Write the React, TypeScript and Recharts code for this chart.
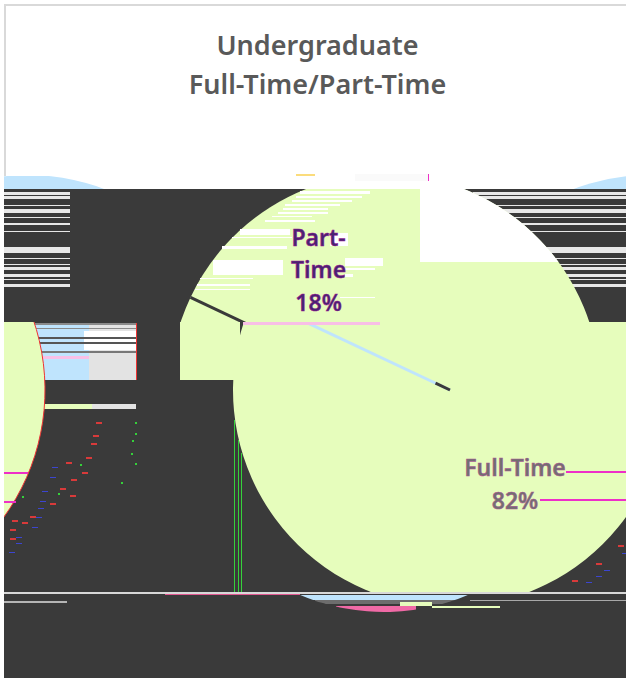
import { PieChart, Pie, Cell } from "recharts";

const categories = ["Full-Time", "Part-Time"];
const shares = [82, 18];
const titleLines = ["Undergraduate", "Full-Time/Part-Time"];

const pieData = categories.map((name, i) => ({ name, value: shares[i] }));

const DARK = "#3a3a3a";
const PALE = "#e6fdbc";
const BLUE = "#bfe4fd";
const PINK = "#f8bfe6";
const MAGENTA = "#ee2fc8";
const FONT = "'Noto Sans', sans-serif";

const W = 626;
const H = 678;
const WRAP = 622;

// row offsets of the torn scanlines in the reference
const stripeRows = [
  [192, 3], [196, 3], [205, 1], [209, 4], [217, 1], [223, 2], [231, 1],
  [247, 6], [258, 1], [264, 1], [267, 3], [274, 3], [279, 1], [284, 3],
];
const whitePatches = [
  [300, 191, 70, 3], [296, 196, 66, 2], [292, 200, 60, 2], [285, 204, 55, 2],
  [283, 208, 45, 2], [278, 212, 50, 2], [272, 216, 40, 1], [265, 220, 50, 2],
  [240, 229, 50, 6], [232, 237, 60, 1], [222, 246, 65, 3], [213, 260, 70, 15],
  [200, 278, 53, 1], [197, 284, 53, 2], [195, 289, 55, 1],
  [330, 233, 18, 13], [345, 258, 38, 8], [345, 268, 30, 2], [345, 274, 8, 3], [340, 297, 35, 1],
];
const redSpecks = [
  [96, 422], [93, 435], [91, 443], [86, 457], [66, 462], [82, 472], [71, 479], [60, 488], [70, 495],
  [50, 503], [30, 516], [22, 522], [12, 520], [10, 529], [10, 538], [572, 580], [596, 563], [618, 545],
];
const blueSpecks = [
  [52, 467], [50, 477], [42, 491], [40, 501], [38, 508], [36, 517], [32, 527], [16, 537], [16, 543],
  [9, 552], [604, 570], [596, 576], [586, 582], [622, 553],
];
const greenSpecks = [
  [135, 422], [135, 433], [132, 440], [131, 453], [135, 463], [121, 482], [80, 464], [58, 493], [22, 496],
];

const Box = ({ x, y, w, h, color }: any) => (
  <div style={{ position: "absolute", left: x, top: y, width: w, height: h, background: color }} />
);

const renderLabel = (labelFor: string | undefined, radius: number, shift: number, color: string, fringe: string, seam?: string) => (p: any) => {
  const rad = Math.PI / 180;
  const isPart = p.name === "Part-Time";
  const edge = -p.startAngle * rad;
  const mid = -p.midAngle * rad;
  const tx = p.cx + radius * Math.cos(mid) + shift;
  const ty = p.cy + radius * Math.sin(mid);
  const lines = isPart
    ? ["Part-", "Time", `${Math.round(p.percent * 100)}%`]
    : [p.name, `${Math.round(p.percent * 100)}%`];
  const top = ty - ((lines.length - 1) * 32.5) / 2;
  return (
    <g>
      {isPart && seam && (
        <line
          x1={p.cx}
          y1={p.cy}
          x2={p.cx + p.outerRadius * Math.cos(edge)}
          y2={p.cy + p.outerRadius * Math.sin(edge)}
          stroke={seam}
          strokeWidth={3}
        />
      )}
      {isPart && seam === BLUE && (
        <line
          x1={p.cx}
          y1={p.cy}
          x2={p.cx + 16 * Math.cos(edge)}
          y2={p.cy + 16 * Math.sin(edge)}
          stroke={DARK}
          strokeWidth={3}
        />
      )}
      {p.name === labelFor &&
        lines.map((t, i) => (
          <text
            key={t}
            x={tx}
            y={top + i * 32.5 + 8}
            textAnchor="middle"
            fill={color}
            stroke={fringe}
            strokeWidth={0.5}
            style={{ fontFamily: FONT, fontSize: 23, fontWeight: 600 }}
          >
            {t}
          </text>
        ))}
    </g>
  );
};

// one horizontal slice of the pie, clipped to its own box
const PieBand = ({ x, y, w, h, cx, cy, r, fill = PALE, edge = "none", shiftX = 0, labelFor, labelRadius = 0, labelShift = 0, labelColor = DARK, fringe = "none", seam }: any) => (
  <div style={{ position: "absolute", left: x, top: y, width: w, height: h, overflow: "hidden" }}>
    <div style={{ position: "absolute", left: -x + shiftX, top: -y }}>
      <PieChart width={W + 100} height={H} margin={{ top: 0, right: 0, bottom: 0, left: 0 }}>
        <Pie
          data={pieData}
          dataKey="value"
          nameKey="name"
          cx={cx}
          cy={cy}
          outerRadius={r}
          startAngle={90}
          endAngle={-270}
          stroke={edge}
          isAnimationActive={false}
          label={renderLabel(labelFor, labelRadius, labelShift, labelColor, fringe, seam)}
          labelLine={false}
        >
          {pieData.map((d) => (
            <Cell key={d.name} fill={fill} />
          ))}
        </Pie>
      </PieChart>
    </div>
  </div>
);

export default function App() {
  return (
    <div style={{ position: "absolute", left: 0, top: 0, width: W, height: H, overflow: "hidden", background: "#fff" }}>
      <Box x={4} y={4} w={622} h={2} color="#d9d9d9" />
      <Box x={4} y={4} w={2} h={172} color="#d9d9d9" />

      <div
        style={{
          position: "absolute",
          left: 4,
          top: 25,
          width: 627,
          textAlign: "center",
          color: "#595959",
          fontFamily: FONT,
          fontSize: 27,
          fontWeight: 600,
          lineHeight: "39px",
        }}
      >
        {titleLines.map((t) => (
          <div key={t}>{t}</div>
        ))}
      </div>

      {/* caps above the torn area */}
      <PieBand x={4} y={176} w={112} h={14} cx={650} cy={390} r={215} fill={BLUE} shiftX={-WRAP} />
      <PieBand x={570} y={176} w={56} h={14} cx={650} cy={390} r={215} fill={BLUE} />
      <Box x={296} y={174} w={19} h={2} color="#fbdc7c" />
      <Box x={355} y={174} w={73} h={7} color="#fafafa" />
      <Box x={428} y={174} w={1} h={7} color={MAGENTA} />

      {/* dark body */}
      <Box x={4} y={189} w={622} h={489} color={DARK} />
      {stripeRows.map(([y, h]) => (
        <Box key={`l${y}`} x={4} y={y} w={66} h={h} color="#e8e8e8" />
      ))}
      {stripeRows.map(([y, h]) => (
        <Box key={`r${y}`} x={473} y={y} w={153} h={h} color="#e8e8e8" />
      ))}

      {/* strip left of the main slice */}
      <Box x={31} y={323} w={105} h={57} color="#e3e3e3" />
      <Box x={31} y={323} w={58} h={57} color={BLUE} />
      <Box x={84} y={331} w={52} h={19} color="#ffffff" />
      <Box x={31} y={323} w={105} h={2} color="#8a8a8a" />
      <Box x={31} y={328} w={105} h={1} color="#8a8a8a" />
      <Box x={31} y={337} w={105} h={2} color="#555" />
      <Box x={31} y={342} w={105} h={2} color="#555" />
      <Box x={31} y={351} w={105} h={2} color="#777" />
      <Box x={31} y={356} w={58} h={3} color={PINK} />
      <Box x={44} y={404} w={92} h={5} color="#e3e3e3" />
      <Box x={44} y={404} w={48} h={5} color={PALE} />
      <Box x={136} y={323} w={1} h={57} color="#e33" />
      <Box x={180} y={322} w={60} h={58} color={PALE} />

      {/* upper half, shifted left */}
      <PieBand x={4} y={189} w={622} h={133} cx={385} cy={389} r={215} seam={DARK} />
      <PieBand x={420} y={189} w={206} h={73} cx={385} cy={389} r={215} fill="#ffffff" />
      {whitePatches.map(([x, y, w, h]) => (
        <Box key={`${x}-${y}`} x={x} y={y} w={w} h={h} color="#ffffff" />
      ))}
      <PieBand
        x={4}
        y={189}
        w={622}
        h={133}
        cx={385}
        cy={386}
        r={215}
        fill="none"
        labelFor="Part-Time"
        labelRadius={137}
        labelShift={7}
        labelColor="#47246f"
        fringe="#a0149a"
      />

      {/* lower half and its wrapped copy */}
      <PieBand
        x={4}
        y={322}
        w={622}
        h={270}
        cx={450}
        cy={390}
        r={217}
        labelFor="Full-Time"
        labelRadius={112}
        labelShift={5}
        labelColor="#707070"
        fringe="#b14f9a"
        seam={BLUE}
      />
      <PieBand x={4} y={322} w={60} h={270} cx={450} cy={390} r={217} edge="#e33" shiftX={-WRAP} />
      <Box x={243} y={322} w={137} h={3} color={PINK} />

      <Box x={234} y={420} w={1} h={172} color="#35d13a" />
      <Box x={238} y={440} w={1} h={152} color="#35d13a" />
      <Box x={241} y={453} w={1} h={139} color="#35d13a" />
      <Box x={566} y={471} w={60} h={2} color={MAGENTA} />
      <Box x={540} y={499} w={86} h={2} color={MAGENTA} />
      <Box x={4} y={472} w={24} h={2} color={MAGENTA} />
      <Box x={4} y={501} w={12} h={2} color={MAGENTA} />

      {redSpecks.map(([x, y]) => (
        <Box key={`red${x}-${y}`} x={x} y={y} w={6} h={2} color="#d83a3a" />
      ))}
      {blueSpecks.map(([x, y]) => (
        <Box key={`blue${x}-${y}`} x={x} y={y} w={6} h={1} color="#3c45d0" />
      ))}
      {greenSpecks.map(([x, y]) => (
        <Box key={`green${x}-${y}`} x={x} y={y} w={2} h={2} color="#35d13a" />
      ))}

      {/* dome under the cut */}
      <PieBand x={300} y={595} w={170} h={5} cx={384} cy={397} r={215} fill={BLUE} />
      <PieBand x={315} y={600} w={150} h={4} cx={384} cy={397} r={215} fill="#6d6d6d" />
      <Box x={400} y={602} w={32} h={4} color={PALE} />
      <PieBand x={336} y={606} w={80} h={6} cx={384} cy={397} r={215} fill="#f06aa6" />
      <Box x={432} y={606} w={68} h={2} color={PALE} />

      <Box x={4} y={592} w={622} h={2} color="#d8d8d8" />
      <Box x={165} y={594} w={135} h={1} color="#e0568f" />
      <Box x={4} y={601} w={63} h={2} color="#b5b5b5" />
      <Box x={470} y={600} w={156} h={1} color="#a8a8a8" />
    </div>
  );
}
